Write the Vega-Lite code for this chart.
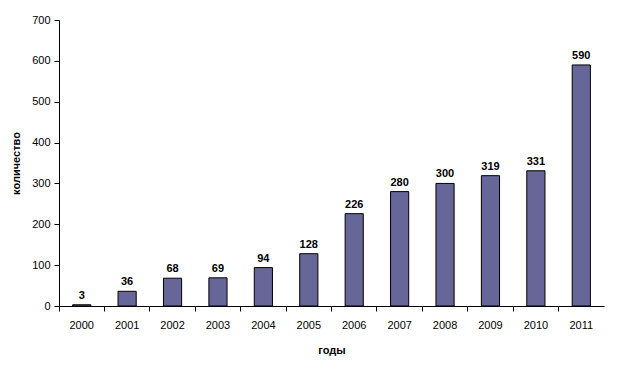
{
  "$schema": "https://vega.github.io/schema/vega-lite/v6.json",
  "autosize": {"type": "none"},
  "padding": {"left": 59, "top": 20, "right": 22, "bottom": 63},
  "width": 545,
  "height": 286,
  "background": "white",
  "data": {"values": [
    {"year": "2000", "count": 3},
    {"year": "2001", "count": 36},
    {"year": "2002", "count": 68},
    {"year": "2003", "count": 69},
    {"year": "2004", "count": 94},
    {"year": "2005", "count": 128},
    {"year": "2006", "count": 226},
    {"year": "2007", "count": 280},
    {"year": "2008", "count": 300},
    {"year": "2009", "count": 319},
    {"year": "2010", "count": 331},
    {"year": "2011", "count": 590}
  ]},
  "config": {
    "view": {"stroke": null},
    "font": "Liberation Sans",
    "axis": {
      "grid": false,
      "domainColor": "black",
      "tickColor": "black",
      "labelColor": "black",
      "titleColor": "black",
      "labelFont": "Liberation Sans",
      "titleFont": "Liberation Sans",
      "labelFontSize": 11,
      "titleFontSize": 11,
      "titleFontWeight": "bold",
      "tickSize": 5
    }
  },
  "encoding": {
    "x": {
      "field": "year", "type": "ordinal",
      "scale": {"paddingInner": 0, "paddingOuter": 0},
      "axis": {"title": "годы", "labelAngle": 0, "bandPosition": 0, "labelPadding": 8, "titlePadding": 14, "labelBound": false}
    },
    "y": {
      "field": "count", "type": "quantitative",
      "scale": {"domain": [0, 700], "nice": false},
      "axis": {"title": "количество", "values": [0,100,200,300,400,500,600,700], "labelPadding": 4, "titlePadding": 10}
    }
  },
  "layer": [
    {"mark": {"type": "bar", "color": "#666699", "stroke": "black", "strokeWidth": 1, "width": {"band": 0.4}}},
    {"mark": {"type": "text", "dy": -9, "fontSize": 11, "fontWeight": "bold", "color": "black", "font": "Liberation Sans"},
     "encoding": {"text": {"field": "count", "type": "quantitative"}}}
  ]
}
